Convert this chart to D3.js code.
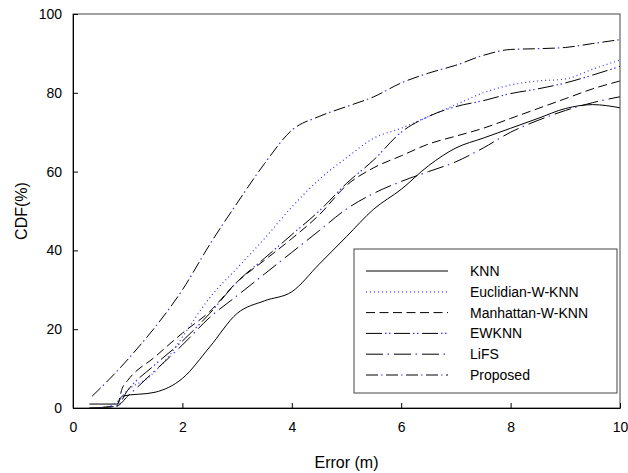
<!DOCTYPE html>
<html>
<head>
<meta charset="utf-8">
<script src="https://cdn.jsdelivr.net/npm/d3@7"></script>
<style>
  body { margin: 0; background: #fff; }
  text { font-family: "Liberation Sans", Arial, sans-serif; }
</style>
</head>
<body>
<svg id="chart" width="628" height="473"></svg>
<script>
// valeurs : [erreur (m), CDF (%)]
const knn = [[0.3,1],[0.8,1],[0.9,3],[1.5,4],[2,7.5],[2.5,15.5],[3,24],[3.5,27.2],[4,29.5],[4.5,36.5],[5,43.5],[5.5,50.5],[6,55.5],[6.5,61.5],[7,66],[7.5,68.5],[8,71],[8.5,73.5],[9,76],[9.5,77],[10,76.2]];
const euclidian = [[0.55,0],[0.8,1.5],[1,4.5],[1.4,8],[1.8,14],[2,18],[2.5,28],[3,35.5],[3.5,43],[4,51],[4.5,58],[5,63.5],[5.5,68.5],[6,71],[6.5,74],[7,77],[7.5,80],[8,82],[8.5,83],[9,83.5],[9.5,86],[10,88.3]];
const manhattan = [[0.3,0],[0.8,0.5],[0.9,5],[1,7],[1.5,13],[2,19],[2.5,24.5],[3,32],[3.5,37.5],[4,43],[4.5,49],[5,56.5],[5.5,61],[6,64],[6.5,67],[7,69],[7.5,71],[8,73.5],[8.5,76],[9,78.5],[9.5,81],[10,83]];
const ewknn = [[0.45,0],[0.8,0.5],[1,4.5],[1.5,11],[2,17],[2.5,24],[3,32],[3.5,38],[4,44],[4.5,50],[5,57],[5.5,63],[6,70],[6.5,74],[7,76.5],[7.5,78],[8,79.8],[8.5,81],[9,82.5],[9.5,84.5],[10,86.7]];
const lifs = [[0.3,0],[0.8,0.5],[1,3],[1.5,9.5],[2,16],[2.5,23],[3,28.5],[3.5,34],[4,39.5],[4.5,45],[5,50.5],[5.5,54.5],[6,57.5],[6.5,60],[7,62.5],[7.5,66],[8,70],[8.5,73],[9,75.5],[9.5,77.5],[10,79]];
const proposed = [[0.35,3],[0.85,10],[1.2,15.5],[1.5,20.5],[2,30],[2.5,41.5],[3,52],[3.5,62],[4,70.5],[4.5,74],[5,76.5],[5.5,79],[6,82.5],[6.5,85],[7,87],[7.5,89.5],[8,91],[8.5,91.2],[9,91.5],[9.5,92.5],[10,93.5]];

const seriesNames = ['KNN','Euclidian-W-KNN','Manhattan-W-KNN','EWKNN','LiFS','Proposed'];
const xTicks = [0,2,4,6,8,10];
const yTicks = [0,20,40,60,80,100];

// styles : trait noir + points bleus dans les vides
const styles = [
  {black: null, blue: null},
  {black: 'none', blue: '1 3'},
  {black: '9 4.5', blue: null},
  {black: '16 12', blue: '0 19 1.5 2.5 1.5 3.5'},
  {black: '17 11', blue: '0 21.5 1.5 5'},
  {black: '12 8', blue: '0 15 1.5 3.5'}
];

const svg = d3.select('#chart');
const m = {left: 73, top: 14, right: 8, bottom: 65};
const W = 628 - m.left - m.right, H = 473 - m.top - m.bottom;

const x = d3.scaleLinear().domain([0,10]).range([0, W]);
const y = d3.scaleLinear().domain([0,100]).range([H, 0]);

const g = svg.append('g').attr('transform', `translate(${m.left},${m.top})`);

g.append('clipPath').attr('id','clip')
  .append('rect').attr('width', W).attr('height', H);

const line = d3.line().x(d => x(d[0])).y(d => y(d[1])).curve(d3.curveMonotoneX);

const data = [knn, euclidian, manhattan, ewknn, lifs, proposed];

const curves = g.append('g').attr('clip-path','url(#clip)');
data.forEach((d,i) => {
  const s = styles[i];
  if (s.black !== 'none') {
    curves.append('path').datum(d).attr('d', line)
      .attr('fill','none').attr('stroke','#000').attr('stroke-width',1)
      .attr('stroke-dasharray', s.black);
  }
  if (s.blue) {
    curves.append('path').datum(d).attr('d', line)
      .attr('fill','none').attr('stroke','#3333ff').attr('stroke-width',1.2)
      .attr('stroke-dasharray', s.blue);
  }
});

// cadre
g.append('rect').attr('width', W).attr('height', H)
  .attr('fill','none').attr('stroke','#444').attr('stroke-width',1);

// axes, ticks vers l'intérieur
const xAxis = g.append('g').attr('transform', `translate(0,${H})`)
  .call(d3.axisBottom(x).tickValues(xTicks).tickSizeInner(-5).tickSizeOuter(0).tickPadding(14));
const yAxis = g.append('g')
  .call(d3.axisLeft(y).tickValues(yTicks).tickSizeInner(-5).tickSizeOuter(0).tickPadding(11));
[xAxis, yAxis].forEach(a => {
  a.select('.domain').attr('stroke','#000');
  a.selectAll('.tick line').attr('stroke','#000');
  a.selectAll('.tick text').attr('font-size', 14).attr('fill','#000')
    .attr('font-family','"Liberation Sans", Arial, sans-serif');
});

svg.append('text').attr('x', m.left + W/2).attr('y', 468)
  .attr('text-anchor','middle').attr('font-size',16).text('Error (m)');
svg.append('text').attr('transform', `translate(27,${m.top + H/2}) rotate(-90)`)
  .attr('text-anchor','middle').attr('font-size',16).text('CDF(%)');

// légende
const lg = svg.append('g').attr('transform','translate(354,249)');
lg.append('rect').attr('width',263).attr('height',144)
  .attr('fill','#fff').attr('stroke','#444').attr('stroke-width',1);
seriesNames.forEach((name,i) => {
  const yy = 22 + i*20.8;
  const s = styles[i];
  if (s.black !== 'none') {
    lg.append('line').attr('x1',12).attr('x2',94).attr('y1',yy).attr('y2',yy)
      .attr('stroke','#000').attr('stroke-width',1).attr('stroke-dasharray', s.black);
  }
  if (s.blue) {
    lg.append('line').attr('x1',12).attr('x2',94).attr('y1',yy).attr('y2',yy)
      .attr('stroke','#3333ff').attr('stroke-width',1.2).attr('stroke-dasharray', s.blue);
  }
  lg.append('text').attr('x',116).attr('y',yy+5).attr('font-size',14).text(name);
});
</script>
</body>
</html>
